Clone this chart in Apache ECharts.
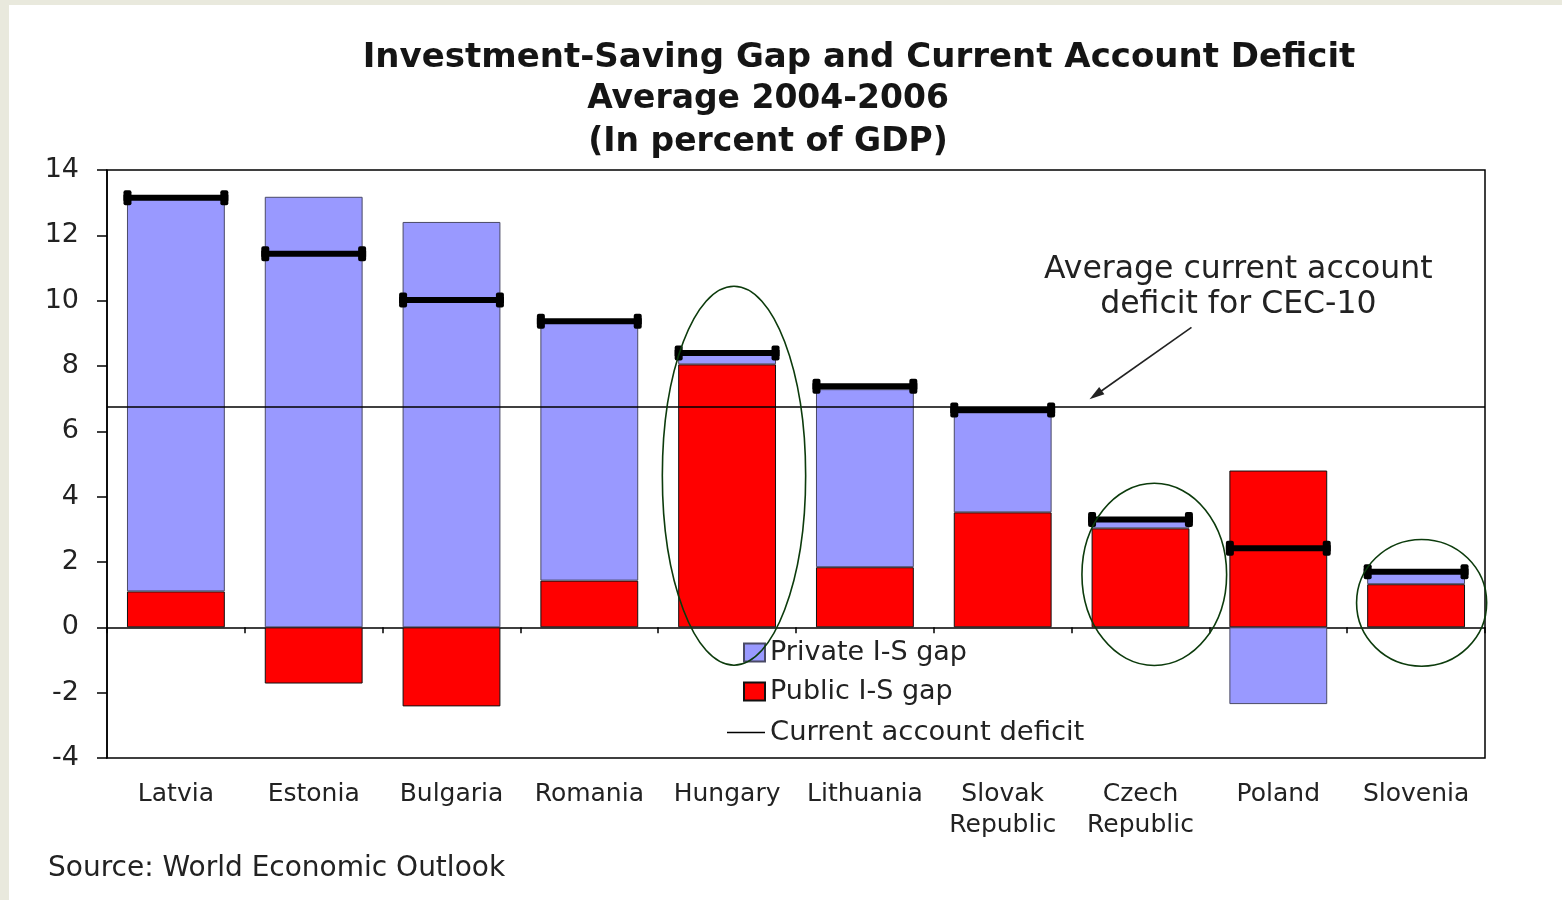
<!DOCTYPE html>
<html><head><meta charset="utf-8">
<script src="https://cdn.jsdelivr.net/npm/echarts@6/dist/echarts.min.js"></script>
<style>
html,body{margin:0;padding:0;background:#e9e9dd;width:1562px;height:900px;overflow:hidden}
#chart{position:absolute;left:9px;top:5px;width:1553px;height:895px;background:#fff}
</style></head><body><div id="chart"></div>
<script>
// ---- data ----
const categories = ['Latvia','Estonia','Bulgaria','Romania','Hungary','Lithuania','Slovak\nRepublic','Czech\nRepublic','Poland','Slovenia'];
const publicGap = [1.1, -1.72, -2.42, 1.43, 8.05, 1.84, 3.52, 3.03, 4.8, 1.32];
const privateGap = [12.05, 13.18, 12.41, 7.94, 0.3, 5.45, 3.06, 0.3, -2.35, 0.35];
const currentAccount = [13.15, 11.44, 10.02, 9.37, 8.4, 7.38, 6.65, 3.3, 2.42, 1.7];
const cec10Average = 6.75;
const yMin = -4, yMax = 14, yInterval = 2;
// annotation anchors (category index, value)
const highlightX = [4.05, 7.10, 9.04];
const highlightY = [4.64, 1.62, 0.75];
const highlightRx = [0.52, 0.525, 0.472];
const highlightRy = [5.8, 2.79, 1.94];
const arrowFrom = [7.37, 9.18];
const arrowTo = [6.63, 6.98];
const noteAnchor = [7.71, 10.96];

const FONT = 'DejaVu Sans';
const chart = echarts.init(document.getElementById('chart'), null, {renderer:'canvas'});

const option = {
  animation: false,
  backgroundColor: '#fff',
  title: [
    {text:'Investment-Saving Gap and Current Account Deficit', left:850, top:32, textAlign:'center', padding:0,
     textStyle:{fontFamily:FONT, fontWeight:'bold', fontSize:34, lineHeight:42, color:'#151515'}},
    {text:'Average 2004-2006\n(In percent of GDP)', left:759, top:73, textAlign:'center', padding:0,
     textStyle:{fontFamily:FONT, fontWeight:'bold', fontSize:33, lineHeight:43, color:'#151515'}},
    {text:'Source: World Economic Outlook', left:39, top:850, padding:0,
     textStyle:{fontFamily:FONT, fontWeight:'normal', fontSize:28, color:'#222'}}
  ],
  grid: {left:98, top:165, right:77, bottom:142, show:true, borderColor:'#000', borderWidth:1.5, backgroundColor:'transparent'},
  legend: [
    {data:['Private I-S gap','Public I-S gap'], orient:'vertical', left:734, top:634, padding:0,
     itemWidth:21, itemHeight:18, itemGap:12, icon:'rect',
     textStyle:{fontFamily:FONT, fontSize:27, lineHeight:20, color:'#222'}},
    {data:[{name:'Current account deficit', icon:'path://M0,0H40V1.6H0Z'}], orient:'vertical', left:718, top:714, padding:0,
     itemWidth:38, itemHeight:18,
     textStyle:{fontFamily:FONT, fontSize:27.4, lineHeight:20, color:'#222'}}
  ],
  xAxis: [
    {type:'category', data:categories, position:'bottom',
     axisLine:{onZero:true, lineStyle:{color:'#000', width:1.5}},
     axisTick:{show:true, interval:0, length:6, lineStyle:{color:'#000', width:1.5}},
     axisLabel:{show:false}},
    {type:'category', data:categories, position:'bottom',
     axisLine:{show:false, onZero:false}, axisTick:{show:false},
     axisLabel:{interval:0, margin:21, fontFamily:FONT, fontSize:25, lineHeight:31, color:'#222'}}
  ],
  yAxis: {type:'value', min:yMin, max:yMax, interval:yInterval,
    axisLine:{show:true, lineStyle:{color:'#000', width:1.5}},
    axisTick:{show:true, length:10, lineStyle:{color:'#000', width:1.5}},
    splitLine:{show:false},
    axisLabel:{margin:28, fontFamily:FONT, fontSize:27, color:'#222'}},
  series: [
    {name:'Public I-S gap', type:'bar', stack:'is', barWidth:'71%', data:publicGap,
     itemStyle:{color:'#ff0000', borderColor:'#111', borderWidth:1},
     markLine:{silent:true, symbol:'none', label:{show:false}, z:4,
       lineStyle:{color:'#000', width:1.5, type:'solid'}, data:[{yAxis:cec10Average}]}},
    {name:'Private I-S gap', type:'bar', stack:'is', barWidth:'71%', data:privateGap,
     itemStyle:{color:'#9999ff', borderColor:'#4a4a66', borderWidth:1}},
    {name:'Current account deficit', type:'custom', z:5,
     itemStyle:{color:'#000'},
     data: currentAccount.map((v,i)=>[i,v]),
     encode:{x:0, y:1},
     renderItem: function(params, api){
       const c = api.coord([api.value(0), api.value(1)]);
       const bw = api.size([1,0])[0];
       const hw = bw*0.71/2 + 3.5;
       const th = 6, capW = 8, capH = 15;
       return {type:'group', children:[
         {type:'rect', shape:{x:c[0]-hw, y:c[1]-th/2, width:2*hw, height:th}, style:{fill:'#000'}},
         {type:'rect', shape:{x:c[0]-hw, y:c[1]-capH/2, width:capW, height:capH, r:2}, style:{fill:'#000'}},
         {type:'rect', shape:{x:c[0]+hw-capW, y:c[1]-capH/2, width:capW, height:capH, r:2}, style:{fill:'#000'}}
       ]};
     }}
  ]
};
chart.setOption(option);

// annotations anchored in data space
const x0 = chart.convertToPixel({xAxisIndex:0}, 0);
const x1 = chart.convertToPixel({xAxisIndex:0}, 1);
const X = i => x0 + (x1-x0)*i;
const Y = v => chart.convertToPixel({yAxisIndex:0}, v);
const bw = x1 - x0;
const uy = Y(0) - Y(1);
const graphics = [];
for (let k=0;k<highlightX.length;k++){
  graphics.push({type:'ellipse', z:100, silent:true,
    shape:{cx:X(highlightX[k]), cy:Y(highlightY[k]), rx:highlightRx[k]*bw, ry:highlightRy[k]*uy},
    style:{fill:null, stroke:'#0c3b0c', lineWidth:1.6}});
}
const ax = X(arrowFrom[0]), ay = Y(arrowFrom[1]), bx = X(arrowTo[0]), by = Y(arrowTo[1]);
const dx = bx-ax, dy = by-ay, L = Math.hypot(dx,dy), ux = dx/L, uy2 = dy/L;
const hl = 15, hwid = 4.5;
graphics.push({type:'line', z:100, silent:true, shape:{x1:ax, y1:ay, x2:bx-ux*hl*0.7, y2:by-uy2*hl*0.7}, style:{stroke:'#222', lineWidth:1.6}});
graphics.push({type:'polygon', z:100, silent:true, shape:{points:[
  [bx,by],[bx-ux*hl - uy2*hwid, by-uy2*hl + ux*hwid],[bx-ux*hl + uy2*hwid, by-uy2*hl - ux*hwid]]},
  style:{fill:'#222'}});
graphics.push({type:'text', z:100, silent:true, x:X(noteAnchor[0]), y:Y(noteAnchor[1]) - 17,
  style:{text:'Average current account\ndeficit for CEC-10', fill:'#222', font:'31.5px "DejaVu Sans"', align:'center', verticalAlign:'top', lineHeight:35}});
chart.setOption({graphic: graphics});
</script></body></html>
